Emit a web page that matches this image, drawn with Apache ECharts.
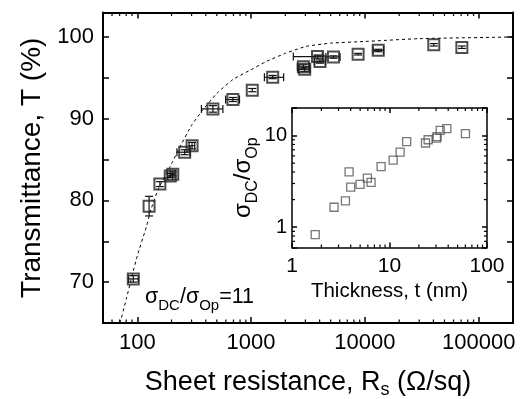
<!DOCTYPE html>
<html><head><meta charset="utf-8">
<script src="https://cdn.jsdelivr.net/npm/echarts@6/dist/echarts.min.js"></script>
<style>html,body{margin:0;padding:0;background:#fff}#c{width:522px;height:399px}</style>
</head><body><div id="c"></div>
<script>
// ---- Main plot data (sheet resistance vs transmittance) ----
const rsValues = [92.3, 127, 158, 195, 205, 261, 303, 462, 692, 1024, 1548, 2880, 2960, 3835, 4030, 5295, 8715, 13090, 40270, 71100];
const tValues  = [70.4, 79.3, 82.0, 83.0, 83.2, 85.9, 86.7, 91.2, 92.35, 93.5, 95.07, 96.35, 96.05, 97.6, 97.0, 97.56, 97.9, 98.37, 99.06, 98.73];
const rsLow    = [84, 127, 158, 185, 195, 223, 285, 366, 597, 1024, 1309, 2550, 2600, 2350, 3600, 4540, 8715, 11800, 40270, 71100];
const rsHigh   = [102, 127, 158, 205, 215, 290, 320, 565, 791, 1024, 1932, 3250, 3300, 4220, 4500, 6050, 8715, 14600, 40270, 71100];
const tLow     = [70.0, 78.1, 81.7, 82.8, 83.0, 85.6, 86.3, 90.8, 92.1, 93.3, 94.9, 96.1, 95.8, 97.4, 96.8, 97.4, 97.8, 98.2, 98.9, 98.6];
const tHigh    = [70.8, 80.5, 82.3, 83.3, 83.5, 86.2, 87.1, 91.6, 92.6, 93.7, 95.3, 96.6, 96.3, 97.8, 97.2, 97.7, 98.0, 98.5, 99.2, 98.9];

// ---- Dashed fit curve (sigma_DC/sigma_Op = 11) ----
const fitRs = [70.6, 80, 89.3, 100, 121, 132, 153, 197, 236, 300, 378, 500, 692, 1000, 1356, 2000, 3035, 5000, 10160, 30000, 200000];
const fitT  = [65.0, 67.9, 70.6, 73.2, 76.9, 78.9, 81.4, 84.3, 86.5, 89.2, 91.1, 93.1, 94.8, 96.0, 97.0, 98.0, 98.85, 99.25, 99.46, 99.8, 100.0];

// ---- Inset data (thickness vs sigma ratio) ----
const thickness = [1.73, 2.70, 3.53, 3.85, 4.0, 4.99, 5.93, 6.47, 8.2, 10.9, 12.85, 15.0, 23.4, 24.9, 30.3, 30.8, 33.1, 38.7, 60.1];
const sigmaRatio = [0.83, 1.65, 1.94, 4.01, 2.74, 2.93, 3.44, 3.09, 4.59, 5.40, 6.6, 8.6, 8.3, 9.0, 9.4, 9.75, 11.4, 11.9, 10.5];

// ---- Tick values ----
const mainXMinor = [60,70,80,90,200,300,400,500,600,700,800,900,2000,3000,4000,5000,6000,7000,8000,9000,20000,30000,40000,50000,60000,70000,80000,90000];
const insetXMinor = [2,3,4,5,6,7,8,9,20,30,40,50,60,70,80,90];
const insetYMinor = [0.7,0.8,0.9,2,3,4,5,6,7,8,9];

const FONT = 'Liberation Sans, Arial, sans-serif';
const isPow10 = v => { const l = Math.log10(v); return Math.abs(l - Math.round(l)) < 1e-6; };
const pow10Label = v => isPow10(v) ? String(Math.round(v)) : '';

const mainX = {min: 50, max: 200000};
const mainY = {min: 65, max: 103};
const inX = {min: 1, max: 100};
const inY = {min: 0.6, max: 20};

function minorXRender(len) {
  return function (params, api) {
    const cs = params.coordSys;
    const p = api.coord([api.value(0), api.value(1)]);
    const x = p[0];
    const st = {stroke: '#000', lineWidth: 1.2};
    return {type: 'group', children: [
      {type: 'line', shape: {x1: x, y1: cs.y + cs.height, x2: x, y2: cs.y + cs.height - len}, style: st},
      {type: 'line', shape: {x1: x, y1: cs.y, x2: x, y2: cs.y + len}, style: st}
    ]};
  };
}
function minorYRender(len) {
  return function (params, api) {
    const cs = params.coordSys;
    const p = api.coord([api.value(0), api.value(1)]);
    const y = p[1];
    const st = {stroke: '#000', lineWidth: 1.2};
    return {type: 'group', children: [
      {type: 'line', shape: {x1: cs.x, y1: y, x2: cs.x + len, y2: y}, style: st},
      {type: 'line', shape: {x1: cs.x + cs.width, y1: y, x2: cs.x + cs.width - len, y2: y}, style: st}
    ]};
  };
}

const mainPts = rsValues.map((r, i) => [r, tValues[i]]);
const errData = rsValues.map((r, i) => [r, tValues[i], rsLow[i], rsHigh[i], tLow[i], tHigh[i]]);
const fitPts = fitRs.map((r, i) => [r, fitT[i]]);
const insetPts = thickness.map((t, i) => [t, sigmaRatio[i]]);

function axisCommon(lineW, tickLen) {
  return {
    axisLine: {show: true, onZero: false, lineStyle: {color: '#000', width: lineW}},
    axisTick: {show: true, inside: true, length: tickLen, lineStyle: {color: '#000', width: 1.5}},
    splitLine: {show: false}
  };
}

const option = {
  backgroundColor: '#fff',
  animation: false,
  grid: [
    {left: 103, top: 12.5, right: 9, bottom: 76, outerBoundsMode: 'none', containLabel: false},
    {left: 292, top: 108, right: 35, bottom: 151.5, outerBoundsMode: 'none', containLabel: false}
  ],
  xAxis: [
    Object.assign({type: 'log', logBase: 10, gridIndex: 0, position: 'bottom', min: mainX.min, max: mainX.max,
      name: '{t|Sheet resistance, R}{s|s}{t| (Ω/sq)}', nameLocation: 'middle', nameGap: 44,
      nameTextStyle: {rich: {t: {fontFamily: FONT, fontSize: 27, color: '#000'}, s: {fontFamily: FONT, fontSize: 18, color: '#000', padding: [14, 0, 0, 0]}}},
      axisLabel: {formatter: pow10Label, fontFamily: FONT, fontSize: 22, color: '#000', margin: 9, showMinLabel: false, showMaxLabel: false}},
      axisCommon(2, 6)),
    Object.assign({type: 'log', logBase: 10, gridIndex: 0, position: 'top', min: mainX.min, max: mainX.max, axisLabel: {show: false}}, axisCommon(2, 6)),
    Object.assign({type: 'log', logBase: 10, gridIndex: 1, position: 'bottom', min: inX.min, max: inX.max,
      name: 'Thickness, t (nm)', nameLocation: 'middle', nameGap: 33,
      nameTextStyle: {fontFamily: FONT, fontSize: 20.5, color: '#000'},
      axisLabel: {formatter: pow10Label, fontFamily: FONT, fontSize: 21, color: '#000', margin: 8}},
      axisCommon(1.5, 5)),
    Object.assign({type: 'log', logBase: 10, gridIndex: 1, position: 'top', min: inX.min, max: inX.max, axisLabel: {show: false}}, axisCommon(1.5, 5))
  ],
  yAxis: [
    Object.assign({type: 'value', gridIndex: 0, position: 'left', min: mainY.min, max: mainY.max, interval: 5,
      name: 'Transmittance, T (%)', nameLocation: 'middle', nameGap: 56,
      nameTextStyle: {fontFamily: FONT, fontSize: 28, color: '#000'},
      axisLabel: {formatter: v => (Math.abs(v % 10) < 1e-9 ? String(v) : ''), fontFamily: FONT, fontSize: 22, color: '#000', margin: 9}},
      axisCommon(2, 6)),
    Object.assign({type: 'value', gridIndex: 0, position: 'right', min: mainY.min, max: mainY.max, interval: 5, axisLabel: {show: false}}, axisCommon(2, 6)),
    Object.assign({type: 'log', logBase: 10, gridIndex: 1, position: 'left', min: inY.min, max: inY.max,
      name: '{s|σ}{sub|DC}{s|/σ}{sub|Op}', nameLocation: 'middle', nameGap: 18,
      nameTextStyle: {rich: {
        s: {fontFamily: FONT, fontSize: 24, color: '#000', lineHeight: 24, verticalAlign: 'top'},
        sub: {fontFamily: FONT, fontSize: 16, color: '#000', lineHeight: 16, verticalAlign: 'top', padding: [13, 0, 0, 0]}}},
      axisLabel: {formatter: pow10Label, fontFamily: FONT, fontSize: 20, color: '#000', margin: 5}},
      axisCommon(1.5, 5)),
    Object.assign({type: 'log', logBase: 10, gridIndex: 1, position: 'right', min: inY.min, max: inY.max, axisLabel: {show: false}}, axisCommon(1.5, 5))
  ],
  graphic: [{
    type: 'text', left: 145, top: 286, z: 100,
    style: {
      text: '{s|σ}{sub|DC}{s|/σ}{sub|Op}{s|=11}',
      rich: {
        s: {fontFamily: FONT, fontSize: 21.5, fill: '#000', lineHeight: 22, verticalAlign: 'top'},
        sub: {fontFamily: FONT, fontSize: 15, fill: '#000', lineHeight: 15, verticalAlign: 'top', padding: [12, 0, 0, 0]}
      }
    }
  }],
  series: [
    {type: 'line', xAxisIndex: 0, yAxisIndex: 0, data: fitPts, smooth: 0.15, symbol: 'none',
      lineStyle: {color: '#000', width: 1, type: [3, 3]}, z: 2},
    {type: 'custom', xAxisIndex: 0, yAxisIndex: 0, data: errData, z: 3,
      renderItem: function (params, api) {
        const c = api.coord([api.value(0), api.value(1)]);
        const l = api.coord([api.value(2), api.value(1)]);
        const h = api.coord([api.value(3), api.value(1)]);
        const lo = api.coord([api.value(0), api.value(4)]);
        const hi = api.coord([api.value(0), api.value(5)]);
        const st = {stroke: '#111', lineWidth: 1.2};
        const ch = [];
        if (h[0] - l[0] > 1) {
          ch.push({type: 'line', shape: {x1: l[0], y1: c[1], x2: h[0], y2: c[1]}, style: st});
          ch.push({type: 'line', shape: {x1: l[0], y1: c[1] - 4, x2: l[0], y2: c[1] + 4}, style: st});
          ch.push({type: 'line', shape: {x1: h[0], y1: c[1] - 4, x2: h[0], y2: c[1] + 4}, style: st});
        }
        if (lo[1] - hi[1] > 1) {
          ch.push({type: 'line', shape: {x1: c[0], y1: lo[1], x2: c[0], y2: hi[1]}, style: st});
          ch.push({type: 'line', shape: {x1: c[0] - 4, y1: lo[1], x2: c[0] + 4, y2: lo[1]}, style: st});
          ch.push({type: 'line', shape: {x1: c[0] - 4, y1: hi[1], x2: c[0] + 4, y2: hi[1]}, style: st});
        }
        return {type: 'group', children: ch};
      }},
    {type: 'scatter', xAxisIndex: 0, yAxisIndex: 0, data: mainPts, symbol: 'rect', symbolSize: 11, z: 4,
      itemStyle: {color: 'rgba(0,0,0,0)', borderColor: '#222', borderWidth: 2}},
    {type: 'custom', xAxisIndex: 0, yAxisIndex: 0, data: mainXMinor.map(v => [v, mainY.min]), renderItem: minorXRender(3.5), z: 5},
    {type: 'scatter', xAxisIndex: 2, yAxisIndex: 2, data: insetPts, symbol: 'rect', symbolSize: 8, z: 4,
      itemStyle: {color: 'rgba(0,0,0,0)', borderColor: '#555', borderWidth: 1.3}},
    {type: 'custom', xAxisIndex: 2, yAxisIndex: 2, data: insetXMinor.map(v => [v, inY.min]), renderItem: minorXRender(3), z: 5},
    {type: 'custom', xAxisIndex: 2, yAxisIndex: 2, data: insetYMinor.map(v => [inX.min, v]), renderItem: minorYRender(3), z: 5}
  ]
};

const chart = echarts.init(document.getElementById('c'), null, {renderer: 'canvas'});
chart.setOption(option);
</script>
</body></html>
